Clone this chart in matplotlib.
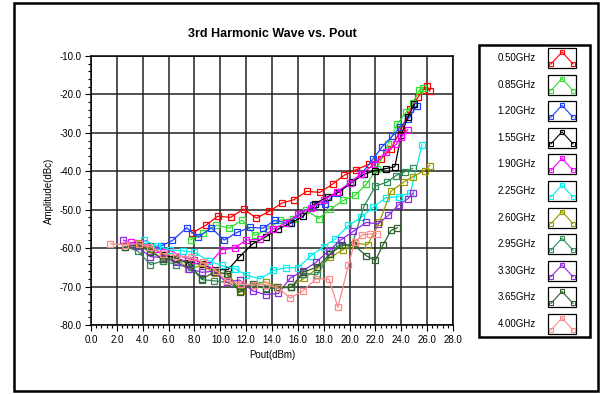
import matplotlib
matplotlib.use("Agg")
import matplotlib.pyplot as plt
from matplotlib.patches import Rectangle
from matplotlib.ticker import MultipleLocator, FormatStrFormatter

plt.rcParams['font.family'] = ['Liberation Sans', 'DejaVu Sans']

# Data: Pout (dBm) and 3rd harmonic amplitude (dBc) per frequency
labels = ["0.50GHz", "0.85GHz", "1.20GHz", "1.55GHz", "1.90GHz", "2.25GHz",
          "2.60GHz", "2.95GHz", "3.30GHz", "3.65GHz", "4.00GHz"]
colors = ["#FF0000", "#33DD33", "#1F3FFF", "#000000", "#FF00FF", "#00F0F0",
          "#999900", "#2E8B57", "#8A2BE2", "#2F5F2F", "#FF8A8A"]

x_050 = [7.8, 8.9, 9.8, 10.8, 11.8, 12.8, 13.8, 14.8, 15.7, 16.7, 17.7, 18.7, 19.6,
         20.5, 21.5, 22.4, 23.2, 24.0, 24.7, 25.3, 25.7, 26.0, 26.2]
y_050 = [-56.1, -54.0, -51.7, -52.0, -49.8, -52.2, -50.4, -48.2, -47.4, -45.2, -45.5,
         -43.3, -41.0, -39.6, -38.2, -36.9, -34.2, -28.9, -23.9, -20.7, -18.8, -17.9, -19.1]

x_085 = [7.7, 8.7, 9.7, 10.7, 11.7, 12.7, 13.7, 14.6, 15.6, 16.6, 17.6, 18.5, 19.5,
         20.4, 21.3, 22.1, 23.0, 23.7, 24.4, 24.9, 25.4, 25.7]
y_085 = [-57.8, -56.1, -54.0, -54.8, -52.7, -56.7, -55.0, -52.7, -52.4, -50.0, -52.3,
         -49.9, -47.6, -46.3, -43.4, -39.4, -32.8, -27.6, -24.6, -22.2, -18.9, -18.3]

x_120 = [5.4, 6.3, 7.4, 8.3, 9.3, 10.3, 11.3, 12.3, 13.3, 14.2, 15.3, 16.2, 17.2,
         18.1, 19.0, 20.0, 20.9, 21.8, 22.5, 23.3, 23.9, 24.5, 25.2]
y_120 = [-59.5, -58.0, -54.7, -57.2, -54.7, -57.9, -55.9, -54.6, -54.8, -52.8, -53.5,
         -51.1, -48.9, -48.5, -45.6, -43.1, -40.7, -36.9, -33.7, -30.9, -28.5, -26.5, -23.0]

x_155 = [3.6, 4.6, 5.6, 6.5, 7.6, 8.6, 9.6, 10.6, 11.5, 12.5, 13.5, 14.5, 15.5,
         16.4, 17.3, 18.3, 19.2, 20.2, 21.1, 22.0, 22.8, 23.5, 24.0, 24.5, 25.0]
y_155 = [-59.0, -59.4, -61.8, -62.5, -63.8, -64.2, -65.6, -65.6, -62.2, -58.9, -57.1,
         -55.0, -53.4, -51.7, -48.5, -46.6, -45.4, -42.8, -40.8, -39.8, -39.3, -38.8,
         -30.5, -26.0, -22.6]

x_190 = [3.1, 4.1, 5.1, 6.1, 7.0, 8.0, 9.1, 10.1, 11.1, 12.0, 13.1, 14.1, 15.1, 16.0,
         17.0, 18.0, 19.0, 20.0, 20.9, 21.9, 22.8, 23.6, 24.0, 24.5]
y_190 = [-58.5, -58.7, -60.2, -60.5, -62.2, -63.1, -64.3, -60.4, -60.0, -57.9, -57.7,
         -55.0, -53.4, -51.2, -49.5, -47.6, -45.4, -43.1, -40.7, -38.2, -35.0, -33.0,
         -31.1, -29.2]

x_225 = [4.1, 5.1, 6.1, 7.1, 8.0, 9.1, 10.1, 11.1, 12.0, 13.1, 14.1, 15.1, 16.0, 17.0,
         18.0, 18.9, 19.9, 20.9, 21.8, 22.8, 23.8, 24.7, 25.6]
y_225 = [-58.0, -59.4, -60.5, -60.7, -61.1, -63.3, -64.5, -65.3, -67.0, -68.0, -65.8,
         -65.1, -65.1, -62.0, -59.6, -57.6, -54.1, -52.0, -49.4, -46.9, -46.6, -45.7, -33.1]

x_260 = [3.6, 4.6, 5.6, 6.6, 7.5, 8.6, 9.6, 10.6, 11.6, 12.5, 13.5, 14.5, 15.5, 16.5,
         17.5, 18.5, 19.5, 20.4, 21.4, 22.3, 23.2, 24.2, 24.9, 25.8, 26.2]
y_260 = [-58.7, -60.2, -63.3, -62.8, -65.3, -64.6, -66.5, -66.7, -71.1, -69.5, -68.8,
         -70.0, -70.0, -67.8, -65.3, -62.4, -60.4, -58.7, -59.1, -53.3, -45.2, -42.8,
         -41.4, -39.8, -38.5]

x_295 = [2.6, 3.6, 4.6, 5.6, 6.6, 7.7, 8.6, 9.5, 10.5, 11.5, 12.5, 13.5, 14.5, 15.5,
         16.4, 17.5, 18.5, 19.2, 20.2, 21.1, 22.0, 22.9, 23.6, 24.3, 24.9]
y_295 = [-59.6, -60.7, -64.3, -63.3, -64.3, -65.0, -68.2, -68.5, -68.9, -70.4, -69.5,
         -70.4, -70.4, -70.2, -66.6, -66.9, -61.5, -59.1, -59.1, -49.2, -43.9, -42.8,
         -41.1, -40.1, -39.2]

x_330 = [2.5, 3.5, 4.6, 5.6, 6.6, 7.6, 8.6, 9.5, 10.5, 11.5, 12.5, 13.5, 14.5, 15.4,
         16.4, 17.4, 18.4, 19.3, 20.3, 21.3, 22.2, 23.0, 23.8, 24.5, 24.9]
y_330 = [-57.9, -59.5, -62.2, -62.5, -63.7, -65.4, -66.3, -66.0, -68.9, -68.3, -71.1,
         -72.1, -71.8, -67.8, -65.9, -63.7, -60.7, -57.9, -55.6, -53.3, -53.7, -51.5,
         -48.7, -47.2, -45.7]

x_365 = [2.6, 3.6, 4.6, 5.6, 6.6, 7.5, 8.6, 9.5, 10.5, 11.5, 12.5, 13.5, 14.4, 15.5,
         16.4, 17.5, 18.5, 19.4, 20.3, 21.3, 22.0, 22.6, 23.2, 23.7]
y_365 = [-59.8, -59.1, -61.0, -62.8, -62.8, -64.0, -68.0, -66.3, -66.6, -71.5, -69.3,
         -70.6, -70.2, -70.2, -66.3, -64.9, -61.5, -59.3, -59.1, -62.0, -63.2, -59.1,
         -55.4, -54.7]

x_400 = [1.5, 2.6, 3.7, 4.6, 5.6, 6.6, 7.7, 8.7, 9.7, 10.5, 11.6, 12.6, 13.5, 14.5,
         15.4, 16.4, 17.4, 18.4, 19.1, 19.9, 20.4, 21.0, 21.6, 22.1]
y_400 = [-58.9, -59.1, -58.9, -59.6, -61.5, -62.0, -62.4, -63.7, -65.9, -68.5, -69.3,
         -69.6, -69.5, -70.4, -73.0, -71.1, -68.0, -68.0, -75.4, -64.5, -58.4, -56.5,
         -56.3, -56.2]

xs = [x_050, x_085, x_120, x_155, x_190, x_225, x_260, x_295, x_330, x_365, x_400]
ys = [y_050, y_085, y_120, y_155, y_190, y_225, y_260, y_295, y_330, y_365, y_400]

W, H = 606, 394
fig = plt.figure(figsize=(W / 100, H / 100), dpi=100)
fig.patch.set_facecolor("white")

ax = fig.add_axes([91 / W, 1 - 325 / H, (453 - 91) / W, (325 - 56) / H])
for x, y, c in zip(xs, ys, colors):
    ax.plot(x, y, color=c, lw=0.9, marker="s", ms=4.2, mfc="none", mec=c, mew=0.9)

ax.set_xlim(0, 28)
ax.set_ylim(-80, -10)
ax.xaxis.set_major_locator(MultipleLocator(2))
ax.xaxis.set_minor_locator(MultipleLocator(0.4))
ax.yaxis.set_major_locator(MultipleLocator(10))
ax.yaxis.set_minor_locator(MultipleLocator(2))
ax.xaxis.set_major_formatter(FormatStrFormatter("%.1f"))
ax.yaxis.set_major_formatter(FormatStrFormatter("%.1f"))
ax.grid(True, which="major", color="#222222", lw=1.1)
ax.tick_params(which="major", direction="out", length=4, width=0.8, labelsize=7, pad=3)
ax.tick_params(which="minor", direction="out", length=2.5, width=0.8)
for s in ax.spines.values():
    s.set_linewidth(1.1)
ax.set_xlabel("Pout(dBm)", fontsize=7, labelpad=4)
ax.set_ylabel("Amplitude(dBc)", fontsize=7, labelpad=4)
ax.set_title("3rd Harmonic Wave vs. Pout", fontsize=9, fontweight="bold", pad=14)

# overlay in pixel coordinates for the outer frame and the legend
ov = fig.add_axes([0, 0, 1, 1], zorder=-1)
ov.set_xlim(0, W)
ov.set_ylim(H, 0)
ov.axis("off")
ov.add_patch(Rectangle((14, 3), 584, 388, fill=False, ec="black", lw=1.8))

ov2 = fig.add_axes([0, 0, 1, 1])
ov2.set_xlim(0, W)
ov2.set_ylim(H, 0)
ov2.axis("off")
ov2.patch.set_alpha(0)
ov2.add_patch(Rectangle((479, 45), 111, 292, fill=False, ec="black", lw=1.8))
for i, (lab, c) in enumerate(zip(labels, colors)):
    yc = 58 + i * 26.6
    ov2.text(536, yc, lab, fontsize=7, ha="right", va="center")
    ov2.add_patch(Rectangle((548, yc - 10), 28, 20, fill=False, ec="black", lw=0.9))
    ov2.plot([551, 562, 573], [yc + 6, yc - 6, yc + 6], color=c, lw=0.8,
             marker="s", ms=3, mfc="none", mec=c, mew=0.8)

fig.savefig("out.png", dpi=100)
